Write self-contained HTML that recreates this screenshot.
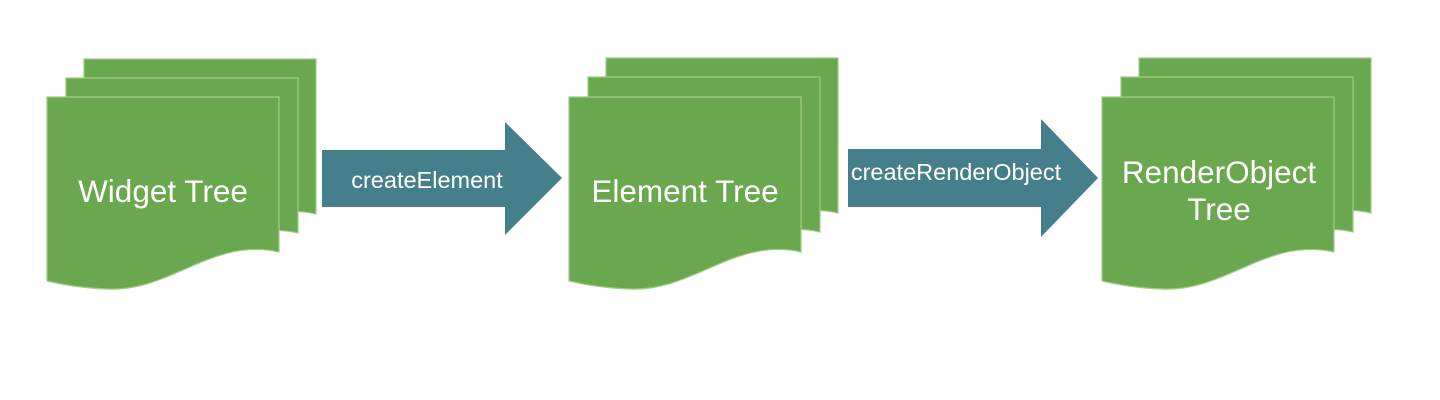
<!DOCTYPE html>
<html><head><meta charset="utf-8"><style>
html,body{margin:0;padding:0;background:#fff;}
svg{display:block;font-family:"Liberation Sans",Arial,sans-serif;}
</style></head><body>
<svg width="1440" height="400" viewBox="0 0 1440 400" xmlns="http://www.w3.org/2000/svg">
<defs>
<path id="doc" d="M0,0 H232 V155 C165,140 125,195 60,192 Q30,191 0,184 Z" fill="#6aa84f" stroke="#9fcb86" stroke-width="1.2"/>
</defs>
<g>
<use href="#doc" x="84" y="59"/>
<use href="#doc" x="66" y="78"/>
<use href="#doc" x="47" y="97"/>
<use href="#doc" x="606" y="58"/>
<use href="#doc" x="588" y="77"/>
<use href="#doc" x="569" y="97"/>
<use href="#doc" x="1139" y="58"/>
<use href="#doc" x="1121" y="77"/>
<use href="#doc" x="1102" y="97"/>
</g>
<path d="M322,150 H505 V122 L562,178 L505,235 V207 H322 Z" fill="#467f8c"/>
<path d="M848,149 H1041 V119 L1098,178 L1041,237 V207 H848 Z" fill="#467f8c"/>
<g fill="#fff" text-anchor="middle">
<text x="163" y="202" font-size="31.5">Widget Tree</text>
<text x="685" y="202" font-size="31.5">Element Tree</text>
<text x="1219" y="183" font-size="31.5">RenderObject</text>
<text x="1219" y="220" font-size="31.5">Tree</text>
<text x="427" y="188" font-size="23.5">createElement</text>
<text x="956" y="180" font-size="23.5">createRenderObject</text>
</g>
</svg>
</body></html>
